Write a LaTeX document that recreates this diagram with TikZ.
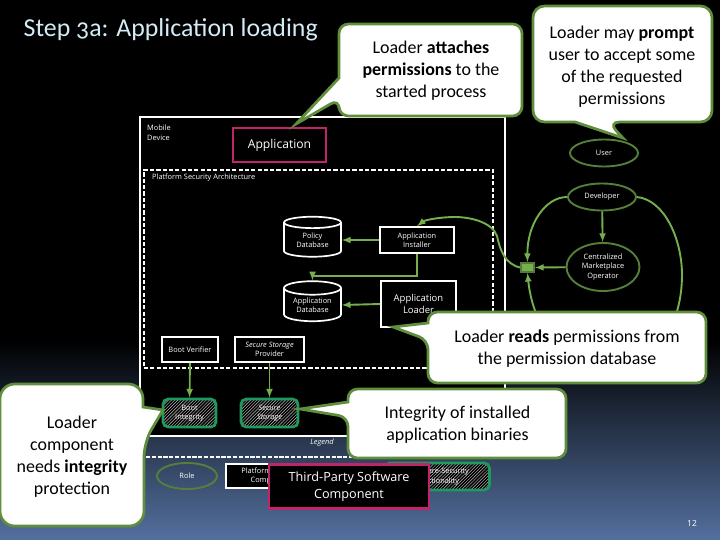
\documentclass[tikz,border=0pt]{standalone}
\usepackage{fontspec}
\setmainfont[Numbers=OldStyle]{Carlito}
\newfontfamily\smallfont{Open Sans}
\usepackage{tikz}
\usetikzlibrary{shapes,arrows,positioning,patterns}
\definecolor{calloutgreen}{HTML}{5F8F3C}
\definecolor{linkgreen}{HTML}{76B04E}
\definecolor{rolegreen}{HTML}{55803A}
\definecolor{tealgreen}{HTML}{1E9A5E}
\definecolor{thirdpink}{HTML}{C0246B}
\definecolor{titleblue}{HTML}{D3ECF6}
\definecolor{bluebottom}{HTML}{54709F}

\begin{document}
\begin{tikzpicture}
                    [
                        x=0.3333mm, y=-0.3333mm,
                        every node/.style={font=\smallfont\fontsize{7}{9}\selectfont, text=white, align=center},
                        softwarenode/.style={rectangle, draw=white, fill=black, line width=1.6pt, inner sep=0pt},
                        thirdnode/.style={rectangle, draw=thirdpink, fill=black, line width=2.4pt, inner sep=0pt},
                        rolenode/.style={ellipse, draw=rolegreen, fill=black, line width=1.8pt, inner sep=0pt},
                        databasenode/.style={cylinder, shape border rotate=90, aspect=0.35, draw=white, fill=black, line width=1.6pt, inner sep=0pt, minimum width=57*0.3333mm, minimum height=40*0.3333mm},
                        hardwarenode/.style={rectangle, rounded corners=5pt, draw=tealgreen, line width=2.6pt, inner sep=0pt, preaction={fill=black}, pattern=north east lines, pattern color=gray!50},
                        calloutbox/.style={draw=calloutgreen, fill=white, line width=2.6pt},
                        callouttext/.style={text=black, font=\fontsize{17}{21}\selectfont},
                        link/.style={draw=linkgreen, line width=1.8pt, -latex},
                    ]

                    % background
                    \fill[black] (0,0) rectangle (720,341);
                    \shade[top color=black, bottom color=bluebottom] (0,340) rectangle (720,540);
                    \useasboundingbox (0,0) rectangle (720,540);
                    \node[font=\fontsize{24.5}{28}\selectfont, text=titleblue, anchor=west] (title) at (20,30) {Step 3a: Application loading};

                    % device
                    \node[rectangle, draw=white, fill=black, line width=2.2pt, minimum width=365*0.3333mm, minimum height=319*0.3333mm, anchor=north west] (device) at (139,116) {};
                    \node[anchor=north west, align=left, inner sep=0pt] (devicetext) at (147,125) {Mobile\\Device};
                    \node[rectangle, draw=white, dash pattern=on 4pt off 2pt, line width=1.8pt, minimum width=349*0.3333mm, minimum height=198*0.3333mm, anchor=north west] (platform) at (143,169) {};
                    \node[anchor=west, inner sep=0pt] (platformtext) at (152,178) {Platform Security Architecture};

                    \node[thirdnode, minimum width=93*0.3333mm, minimum height=34*0.3333mm, font=\smallfont\fontsize{11.5}{14}\selectfont] (application) at (279.5,145) {Application};

                    \node[databasenode] (policydb) at (312.5,240) {Policy\\Database};
                    \node[databasenode] (appdb) at (312.5,305) {Application\\Database};
                    \node[softwarenode, minimum width=74*0.3333mm, minimum height=26*0.3333mm] (installer) at (417,240) {Application\\Installer};
                    \node[softwarenode, minimum width=75*0.3333mm, minimum height=46*0.3333mm, font=\smallfont\fontsize{9}{12}\selectfont] (loader) at (418.5,304) {Application\\Loader};
                    \node[softwarenode, minimum width=56*0.3333mm, minimum height=25*0.3333mm] (bootverifier) at (190,349.5) {Boot Verifier};
                    \node[softwarenode, minimum width=69*0.3333mm, minimum height=25*0.3333mm] (provider) at (269.5,349.5) {\textit{Secure Storage}\\Provider};

                    \node[hardwarenode, minimum width=53*0.3333mm, minimum height=28*0.3333mm] (bootintegrity) at (189.5,413) {Boot\\Integrity};
                    \node[hardwarenode, minimum width=57*0.3333mm, minimum height=28*0.3333mm] (securestorage) at (269.5,413) {\textit{Secure}\\\textit{Storage}};

                    \node[rolenode, minimum width=68*0.3333mm, minimum height=27*0.3333mm] (user) at (604,153) {User};
                    \node[rolenode, minimum width=68*0.3333mm, minimum height=27*0.3333mm] (developer) at (602,197) {Developer};
                    \node[rolenode, minimum width=73*0.3333mm, minimum height=48*0.3333mm] (marketplace) at (603,267) {Centralized\\Marketplace\\Operator};
                    \node[rectangle, draw=linkgreen!70!black, fill=linkgreen, line width=1.8pt, minimum width=13*0.3333mm, minimum height=9*0.3333mm, inner sep=0pt] (junction) at (527.5,267.5) {};

                    % connectors
                    \draw[link] (installer) -- (policydb);
                    \draw[link] (loader.west) -- (appdb.east);
                    \draw[link] (installer.south) |- (312.5,276) -- (appdb.north);
                    \draw[link] (bootverifier) -- (bootintegrity);
                    \draw[link] (provider) -- (securestorage);
                    \draw[link] (developer) -- (marketplace);
                    \draw[link] (marketplace) -- (junction);
                    \draw[link] (developer.west) .. controls (545,197) and (527,225) .. (junction.north);
                    \draw[link] (developer.east) .. controls (665,200) and (682,240) .. (682,275) .. controls (682,330) and (650,375) .. (603,375) .. controls (560,375) and (532,320) .. (junction.south);
                    \draw[link] (junction.west) .. controls (505,264) and (500,250) .. (497,236) .. controls (492,222) and (470,217) .. (455,217) .. controls (440,217) and (425,220) .. (installer.north);

                    % legend
                    \node[font=\smallfont\itshape\fontsize{7}{9}\selectfont] (legendtext) at (322,443) {Legend};
                    \coordinate (legendleft) at (146,457);
                    \coordinate (legendright) at (504,457);
                    \draw[white, dash pattern=on 4pt off 1.5pt, line width=1pt] (legendleft) -- (legendright);
                    \node[rolenode, fill=none, minimum width=60*0.3333mm, minimum height=26*0.3333mm] (role) at (187,476) {Role};
                    \node[softwarenode, minimum width=90*0.3333mm, minimum height=24*0.3333mm] (platformlegend) at (271,476) {Platform Security\\Component};
                    \node[hardwarenode, minimum width=105*0.3333mm, minimum height=27*0.3333mm] (hardwarelegend) at (437,476.5) {Hardware-Security\\Functionality};
                    \node[thirdnode, minimum width=160*0.3333mm, minimum height=44*0.3333mm, font=\smallfont\fontsize{12}{16}\selectfont] (thirdlegend) at (349,486.5) {Third-Party Software\\Component};

                    % callouts
                    \draw[calloutbox, rounded corners=9pt] (339,78) -- (339,24) -- (522,24) -- (522,116) -- (339,116) -- (339,99) [sharp corners] -- (296,124) -- cycle;
                    \node[callouttext] (attaches) at (431,71) {Loader \textbf{attaches}\\\textbf{permissions} to the\\started process};
                    \draw[calloutbox, rounded corners=11pt] (575,122) -- (533,122) -- (533,6) -- (712,6) -- (712,122) -- (608,122) [sharp corners] -- (623,138) -- cycle;
                    \node[callouttext] (prompt) at (622,66.5) {Loader may \textbf{prompt}\\user to accept some\\of the requested\\permissions};
                    \draw[calloutbox, rounded corners=9pt] (428,323) -- (428,312) -- (706,312) -- (706,383) -- (428,383) -- (428,340) [sharp corners] -- (393,327) -- cycle;
                    \node[callouttext] (reads) at (567,349) {Loader \textbf{reads} permissions from\\the permission database};
                    \draw[calloutbox, rounded corners=9pt] (348,402) -- (348,389) -- (566,389) -- (566,458) -- (348,458) -- (348,417) [sharp corners] -- (300,409) -- cycle;
                    \node[callouttext] (integrity) at (457.5,425) {Integrity of installed\\application binaries};
                    \draw[calloutbox, rounded corners=14pt] (143,407) -- (143,384) -- (0,384) -- (0,526) -- (144,526) -- (144,442) [sharp corners] -- (163,410) -- cycle;
                    \node[callouttext] (component) at (72,456.5) {Loader\\component\\needs \textbf{integrity}\\protection};

                    \node[font=\smallfont\fontsize{8}{9}\selectfont] (pagenumber) at (692,523) {12};
                \end{tikzpicture}
\end{document}
